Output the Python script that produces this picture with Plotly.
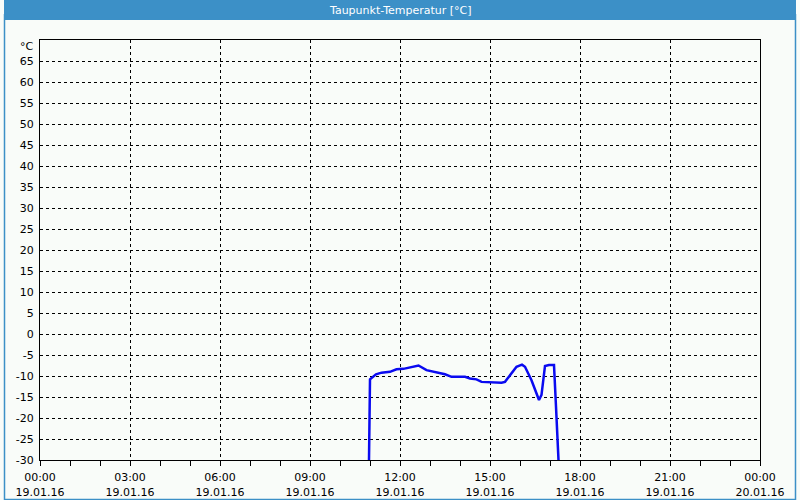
import plotly.graph_objects as go

times = ["2016-01-19 10:58", "2016-01-19 10:59", "2016-01-19 11:00", "2016-01-19 11:12", "2016-01-19 11:23",
         "2016-01-19 11:40", "2016-01-19 11:53", "2016-01-19 12:07", "2016-01-19 12:20",
         "2016-01-19 12:37", "2016-01-19 12:53", "2016-01-19 13:07", "2016-01-19 13:20",
         "2016-01-19 13:30", "2016-01-19 13:43", "2016-01-19 14:10", "2016-01-19 14:20",
         "2016-01-19 14:33", "2016-01-19 14:43", "2016-01-19 15:23", "2016-01-19 15:30",
         "2016-01-19 15:40", "2016-01-19 15:53", "2016-01-19 16:04", "2016-01-19 16:10",
         "2016-01-19 16:23", "2016-01-19 16:38", "2016-01-19 16:43", "2016-01-19 16:50",
         "2016-01-19 16:58", "2016-01-19 17:08", "2016-01-19 17:12", "2016-01-19 17:14", "2016-01-19 17:17"]
values = [-30, -11.0, -10.8, -9.6, -9.2, -9.0, -8.4, -8.3, -8.0,
          -7.5, -8.6, -9.0, -9.2, -9.6, -10.2, -10.2, -10.6,
          -10.8, -11.4, -11.6, -11.4, -9.8, -7.8, -7.3, -7.8,
          -11.0, -15.7, -14.5, -7.6, -7.4, -7.4, -17.3, -24.0, -30]

tick_vals = ["2016-01-19 00:00", "2016-01-19 03:00", "2016-01-19 06:00", "2016-01-19 09:00",
             "2016-01-19 12:00", "2016-01-19 15:00", "2016-01-19 18:00", "2016-01-19 21:00",
             "2016-01-20 00:00"]
tick_text = ["00:00<br>19.01.16", "03:00<br>19.01.16", "06:00<br>19.01.16", "09:00<br>19.01.16",
             "12:00<br>19.01.16", "15:00<br>19.01.16", "18:00<br>19.01.16", "21:00<br>19.01.16",
             "00:00<br>20.01.16"]
y_ticks = list(range(-30, 70, 5))
title = "Taupunkt-Temperatur [°C]"
unit = "°C"

fig = go.Figure()
fig.add_trace(go.Scatter(x=times, y=values, mode="lines",
                         line=dict(color="#0A0AF0", width=2.5), showlegend=False))

font = dict(family="DejaVu Sans, Verdana, sans-serif", size=11, color="#000000")

fig.update_layout(
    width=800, height=500,
    margin=dict(l=40, r=40, t=40, b=40, autoexpand=False),
    paper_bgcolor="#F9FCF9", plot_bgcolor="#F9FCF9",
    font=font,
    xaxis=dict(
        type="date", automargin=False,
        range=["2016-01-19 00:00", "2016-01-20 00:00"],
        tickmode="array", tickvals=tick_vals, ticktext=tick_text,
        ticks="outside", ticklen=5, tickcolor="#000000", tickwidth=1,
        minor=dict(dtick=3600000, ticks="outside", ticklen=5, tickcolor="#000000", showgrid=False),
        showgrid=True, gridcolor="#000000", griddash="3px,3px", gridwidth=1,
        showline=True, linecolor="#000000", linewidth=1, mirror=True,
        zeroline=False, tickangle=0, fixedrange=True, ticklabelstandoff=2,
    ),
    yaxis=dict(
        range=[-30, 70], automargin=False,
        tickmode="array", tickvals=y_ticks, ticktext=[str(v) for v in y_ticks],
        ticks="", ticklabelstandoff=3,
        showgrid=True, gridcolor="#000000", griddash="3px,3px", gridwidth=1,
        showline=True, linecolor="#000000", linewidth=1, mirror=True,
        zeroline=False, fixedrange=True,
    ),
    shapes=[
        dict(type="rect", xref="paper", yref="paper", x0=-0.05, x1=1.05, y0=1.0476, y1=1.0952 + 0.01,
             fillcolor="#3C90C7", line=dict(width=0), layer="below"),
        dict(type="rect", xref="paper", yref="paper", x0=-0.05 + 0.0007, x1=1.05 - 0.0007,
             y0=-0.0952 + 0.0012, y1=1.06, fillcolor="rgba(0,0,0,0)",
             line=dict(color="#3C90C7", width=1.5), layer="below"),
    ],
    annotations=[
        dict(text=title, xref="paper", yref="paper", x=0.5, y=1.0714, showarrow=False,
             font=dict(family="DejaVu Sans, Verdana, sans-serif", size=11, color="#FFFFFF"),
             xanchor="center", yanchor="middle"),
        dict(text=unit, xref="paper", yref="paper", x=-0.0056, y=0.985, showarrow=False,
             font=font, xanchor="right", yanchor="middle"),
    ],
)

fig.write_html("out.html")
